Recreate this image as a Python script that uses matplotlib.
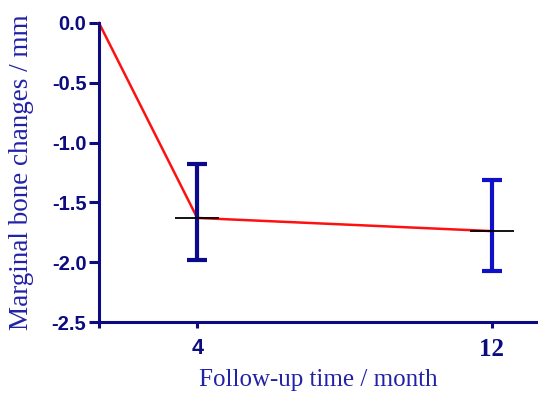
import numpy as np
import matplotlib
matplotlib.use("Agg")
import matplotlib.pyplot as plt

# data
months = [0, 4, 12]
mean_change = [0.0, -1.63, -1.74]
err_months = [4, 12]
err_mean = [-1.63, -1.74]
err_low = [-1.98, -2.07]
err_high = [-1.18, -1.31]
err_colors = ['#0a0a8a', '#1010c8']
yticks = [0.0, -0.5, -1.0, -1.5, -2.0, -2.5]
xtick_vals = [0, 4, 12]
xtick_labels = ['', '4', '12']

axis_color = '#0c0c80'
label_color = '#2222a8'

src = np.array([0.0, 4.0, 12.0, 100.0])
dst = np.array([0.0, 1.0, 4.0, 4.0 + 3 * 88 / 8])

def fwd(x):
    return np.interp(x, src, dst)

def inv(y):
    return np.interp(y, dst, src)

fig = plt.figure(figsize=(5.38, 3.94), dpi=100)
ax = fig.add_axes([99 / 538, 72 / 394, (538 - 99) / 538, (322 - 23) / 394])
ax.set_xscale('function', functions=(fwd, inv))
ax.set_xlim(0, 13.25)
ax.set_ylim(-2.5, 0)

ax.plot(months, mean_change, color='#ff1010', lw=1.8, zorder=2, clip_on=False)

for xm, m, lo, hi, c in zip(err_months, err_mean, err_low, err_high, err_colors):
    ax.errorbar([xm], [m], yerr=[[m - lo], [hi - m]], fmt='none', ecolor=c,
                elinewidth=3.0, capsize=7, capthick=3.0, zorder=3)

ax.plot(err_months, err_mean, ls='none', marker='_', ms=32, mew=1.3,
        color='black', zorder=4)

for s in ['top', 'right']:
    ax.spines[s].set_visible(False)
for s in ['left', 'bottom']:
    ax.spines[s].set_color(axis_color)
    ax.spines[s].set_linewidth(2.2)

ax.set_yticks(yticks)
ax.set_yticklabels([f'{v:.1f}' for v in yticks], fontfamily='Liberation Sans',
                   fontweight='bold', fontsize=14.5, color=axis_color)
ax.tick_params(axis='y', length=7, width=2.2, color=axis_color, pad=2)

ax.set_xticks(xtick_vals)
ax.set_xticklabels(xtick_labels)
ax.tick_params(axis='x', length=4.5, width=2.2, color=axis_color, pad=7)
tl = ax.get_xticklabels()
tl[1].set_fontfamily('Liberation Sans')
tl[1].set_fontweight('bold')
tl[1].set_fontsize(15.5)
tl[1].set_color(axis_color)
tl[2].set_fontfamily('Liberation Serif')
tl[2].set_fontweight('bold')
tl[2].set_fontsize(18)
tl[2].set_color(axis_color)

ax.set_ylabel('Marginal bone changes / mm', fontfamily='Liberation Serif',
              fontsize=19.5, color=label_color)
ax.yaxis.set_label_coords((34 - 99) / 439, 0.5)
ax.set_xlabel('Follow-up time / month', fontfamily='Liberation Serif',
              fontsize=18, color=label_color, labelpad=6)

fig.savefig('out.png', dpi=100)
